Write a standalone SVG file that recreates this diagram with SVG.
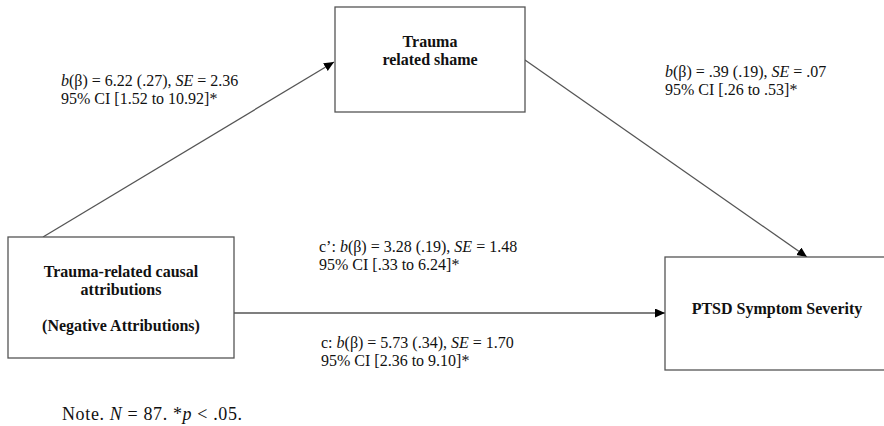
<svg xmlns="http://www.w3.org/2000/svg" width="884" height="426" viewBox="0 0 884 426">
<style>
.box{fill:#fff;stroke:#555;stroke-width:1.3}
.lbl{font-family:"Liberation Serif","Times New Roman",serif;font-size:16px;fill:#111}
.node{font-family:"Liberation Serif","Times New Roman",serif;font-size:16px;font-weight:bold;fill:#111;text-anchor:middle}
.edge{stroke:#555;stroke-width:1.3;fill:none;marker-end:url(#arr)}
.i{font-style:italic}
</style>
<defs>
<marker id="arr" markerUnits="userSpaceOnUse" markerWidth="11" markerHeight="10" refX="10" refY="4.5" orient="auto">
<path d="M0,0 L10,4.5 L0,9 z" fill="#000"/>
</marker>
</defs>
<rect width="884" height="426" fill="#fff"/>
<g id="connectors">
<line class="edge" x1="43" y1="237" x2="334" y2="62"/>
<line class="edge" x1="525" y1="60" x2="807" y2="257"/>
<line class="edge" x1="234" y1="313" x2="665" y2="313"/>
</g>
<g id="node-shame">
<rect class="box" x="335" y="7" width="190" height="105"/>
<text class="node"><tspan x="430" y="47">Trauma</tspan><tspan x="430" y="65">related shame</tspan></text>
</g>
<g id="node-attributions">
<rect class="box" x="8" y="237" width="226" height="121"/>
<text class="node"><tspan x="121" y="277">Trauma-related causal</tspan><tspan x="121" y="295">attributions</tspan><tspan x="121" y="331">(Negative Attributions)</tspan></text>
</g>
<g id="node-ptsd">
<rect class="box" x="665" y="257" width="240" height="113"/>
<text class="node" x="777" y="314">PTSD Symptom Severity</text>
</g>
<g id="labels">
<text class="lbl"><tspan x="61" y="86"><tspan class="i">b</tspan>(β) = 6.22 (.27), <tspan class="i">SE</tspan> = 2.36</tspan><tspan x="61" y="104">95% CI [1.52 to 10.92]*</tspan></text>
<text class="lbl"><tspan x="665" y="77"><tspan class="i">b</tspan>(β) = .39 (.19), <tspan class="i">SE</tspan> = .07</tspan><tspan x="665" y="95">95% CI [.26 to .53]*</tspan></text>
<text class="lbl"><tspan x="319" y="252">c’: <tspan class="i">b</tspan>(β) = 3.28 (.19), <tspan class="i">SE</tspan> = 1.48</tspan><tspan x="319" y="270">95% CI [.33 to 6.24]*</tspan></text>
<text class="lbl"><tspan x="321" y="348">c: <tspan class="i">b</tspan>(β) = 5.73 (.34), <tspan class="i">SE</tspan> = 1.70</tspan><tspan x="321" y="366">95% CI [2.36 to 9.10]*</tspan></text>
<text class="lbl" x="62" y="420" style="font-size:18px" textLength="180">Note. <tspan class="i">N</tspan> = 87. *<tspan class="i">p</tspan> &lt; .05.</text>
</g>
</svg>
